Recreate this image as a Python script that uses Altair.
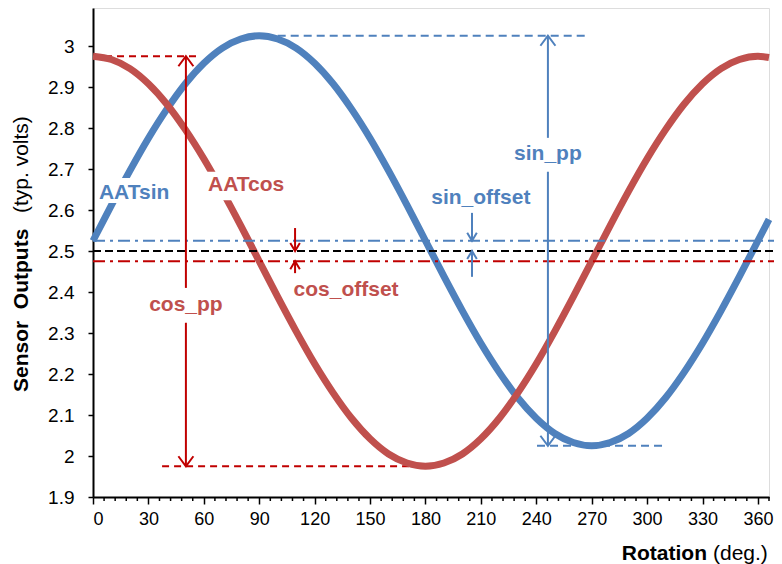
import altair as alt
import pandas as pd

# ---- data ----
angle_deg = [0, 10, 20, 30, 40, 50, 60, 70, 80, 90, 100, 110, 120, 130, 140, 150, 160, 170, 180,
             190, 200, 210, 220, 230, 240, 250, 260, 270, 280, 290, 300, 310, 320, 330, 340, 350, 360, 366]
aat_sin = [2.525, 2.612, 2.696, 2.775, 2.846, 2.908, 2.958, 2.995, 3.017, 3.025, 3.017, 2.995, 2.958,
           2.908, 2.846, 2.775, 2.696, 2.612, 2.525, 2.438, 2.354, 2.275, 2.204, 2.142, 2.092, 2.055,
           2.033, 2.025, 2.033, 2.055, 2.092, 2.142, 2.204, 2.275, 2.354, 2.438, 2.525, 2.577]
aat_cos = [2.975, 2.967, 2.945, 2.908, 2.858, 2.796, 2.725, 2.646, 2.562, 2.475, 2.388, 2.304, 2.225,
           2.154, 2.092, 2.042, 2.005, 1.983, 1.975, 1.983, 2.005, 2.042, 2.092, 2.154, 2.225, 2.304,
           2.388, 2.475, 2.562, 2.646, 2.725, 2.796, 2.858, 2.908, 2.945, 2.967, 2.975, 2.972]

ref_mid = 2.5
sin_offset_level = 2.525
cos_offset_level = 2.475
ref_x = [0, 372]

# dashed extension lines: (x_start, x_end, level)
red_ext = [(0, 56.3, 2.975), (37.4, 184, 1.975)]
blue_ext = [(100, 267.5, 3.025), (240.4, 308.6, 2.025)]

# arrow shafts: (x, y_start, y_end)
red_shafts = [(50.3, 2.975, 2.41), (50.3, 2.325, 1.975), (109.4, 2.556, 2.5), (109.4, 2.475, 2.446)]
blue_shafts = [(246.3, 3.025, 2.776), (246.3, 2.693, 2.025), (205.2, 2.593, 2.525), (205.2, 2.5, 2.437)]

# arrow heads: (x, y, direction, size)
red_heads = [(50.3, 2.975, "up", "big"), (50.3, 1.975, "down", "big"),
             (109.4, 2.5, "down", "small"), (109.4, 2.475, "up", "small")]
blue_heads = [(246.3, 3.025, "up", "big"), (246.3, 2.025, "down", "big"),
              (205.2, 2.525, "down", "small"), (205.2, 2.5, "up", "small")]

# labels: (text, x, y, align, color)
labels = [("AATsin", 3.2, 2.641, "left", "#4F81BD"),
          ("AATcos", 62.3, 2.661, "left", "#C0504D"),
          ("cos_pp", 50.3, 2.368, "center", "#C0504D"),
          ("sin_pp", 246.3, 2.737, "center", "#4F81BD"),
          ("sin_offset", 210.0, 2.629, "center", "#4F81BD"),
          ("cos_offset", 137.0, 2.405, "center", "#C0504D")]
# white boxes behind the curve labels: (x1, x2, y1, y2)
label_boxes = [(1.6, 45.0, 2.617, 2.678), (60.0, 113.0, 2.624, 2.693)]

x_major = list(range(0, 361, 30))
x_minor = [v for v in range(0, 367, 6) if v % 30 != 0]
y_ticks = [1.9, 2.0, 2.1, 2.2, 2.3, 2.4, 2.5, 2.6, 2.7, 2.8, 2.9, 3.0]

BLUE = "#4F81BD"
RED = "#C0504D"
DARK_RED = "#C00000"
FONT = "Liberation Sans"

W, H = 676, 489
xs = alt.Scale(domain=[0, 366], nice=False, zero=False)
ys = alt.Scale(domain=[1.9, 3.0927], nice=False, zero=False)

x_axis = alt.Axis(values=x_major, tickSize=7, labelOverlap=False, labelPadding=6, title=None, grid=False,
                  domainColor="black", domainWidth=2, tickColor="black", tickWidth=1.5,
                  labelFont=FONT, labelFontSize=18, labelColor="black")
y_axis = alt.Axis(values=y_ticks, format=".1~f", tickSize=5, labelPadding=14, title=None, grid=False,
                  domainColor="black", domainWidth=2, tickColor="black", tickWidth=1.5,
                  labelFont=FONT, labelFontSize=19, labelColor="black")


def X(f):
    return alt.X(f, scale=xs, axis=x_axis)


def Y(f):
    return alt.Y(f, scale=ys, axis=y_axis)


curves = pd.DataFrame({
    "deg": angle_deg * 2,
    "v": aat_sin + aat_cos,
    "s": ["AATsin"] * len(angle_deg) + ["AATcos"] * len(angle_deg),
})

base_curve = alt.Chart(curves).mark_line(strokeWidth=7, interpolate="monotone", strokeCap="butt").encode(
    x=X("deg:Q"),
    y=Y("v:Q"),
    color=alt.Color("s:N", scale=alt.Scale(domain=["AATsin", "AATcos"], range=[BLUE, RED]), legend=None),
    detail="s:N",
)

# minor ticks on the x axis
minor_ticks = alt.Chart(pd.DataFrame({"x": x_minor})).mark_rule(color="black", strokeWidth=1.5).encode(
    x=X("x:Q"), y=alt.value(H), y2=alt.value(H + 4))


def hrules(rows, color, dash, width=2):
    df = pd.DataFrame(rows, columns=["x1", "x2", "y"])
    return alt.Chart(df).mark_rule(color=color, strokeDash=dash, strokeWidth=width).encode(
        x=X("x1:Q"), x2="x2:Q", y=Y("y:Q"))


def vrules(rows, color, width=2):
    df = pd.DataFrame(rows, columns=["x", "y1", "y2"])
    return alt.Chart(df).mark_rule(color=color, strokeWidth=width).encode(
        x=X("x:Q"), y=Y("y1:Q"), y2="y2:Q")


SHAPES = {
    ("up", "big"): ("M-0.75,1L0,0L0.75,1", 400),
    ("down", "big"): ("M-0.75,-1L0,0L0.75,-1", 400),
    ("up", "small"): ("M-0.6,1L0,0L0.6,1", 256),
    ("down", "small"): ("M-0.6,-1L0,0L0.6,-1", 256),
}


def heads(rows, color):
    layers = []
    for x, y, d, sz in rows:
        path, size = SHAPES[(d, sz)]
        df = pd.DataFrame({"x": [x], "y": [y]})
        layers.append(alt.Chart(df).mark_point(shape=path, size=size, filled=False, color=color,
                                               strokeWidth=2, opacity=1).encode(
            x=X("x:Q"), y=Y("y:Q")))
    return layers


ext_layers = [hrules(red_ext, DARK_RED, [7, 5]), hrules(blue_ext, BLUE, [8, 5])]
ref_layers = [
    hrules([(ref_x[0], ref_x[1], ref_mid)], "black", [8, 4]),
    hrules([(ref_x[0], ref_x[1], sin_offset_level)], BLUE, [12, 5, 3, 5]),
    hrules([(ref_x[0], ref_x[1], cos_offset_level)], DARK_RED, [12, 5, 3, 5]),
]
arrow_layers = [vrules(red_shafts, DARK_RED), vrules(blue_shafts, BLUE)] + heads(red_heads, DARK_RED) + heads(blue_heads, BLUE)

box_df = pd.DataFrame(label_boxes, columns=["x1", "x2", "y1", "y2"])
box_layer = alt.Chart(box_df).mark_rect(color="white").encode(
    x=X("x1:Q"), x2="x2:Q", y=Y("y1:Q"), y2="y2:Q")

lab_df = pd.DataFrame(labels, columns=["t", "x", "y", "a", "c"])
label_layers = []
for a in ["left", "center"]:
    sub = lab_df[lab_df["a"] == a]
    label_layers.append(alt.Chart(sub).mark_text(align=a, baseline="middle", font=FONT, fontSize=21,
                                                  fontWeight="bold").encode(
        x=X("x:Q"), y=Y("y:Q"), text="t:N",
        color=alt.Color("c:N", scale=None)))


# axis titles (mixed bold / regular)
def title_text(txt, x, y, align, bold, angle=0):
    kw = dict(align=align, baseline="alphabetic", font=FONT, fontSize=21, color="black",
              fontWeight="bold" if bold else "normal")
    if angle:
        kw["angle"] = angle
    return alt.Chart(pd.DataFrame({"t": [txt]})).mark_text(**kw).encode(
        x=alt.value(x), y=alt.value(y), text="t:N")


title_layers = [
    title_text("Sensor\u00a0\u00a0Outputs", -65, 384, "left", True, angle=270),
    title_text("(typ. volts)", -65, 205, "left", False, angle=270),
    title_text("Rotation", 614, 552, "right", True),
    title_text("(deg.)", 620, 552, "left", False),
]

chart = alt.layer(*ext_layers, base_curve, minor_ticks, *ref_layers, *arrow_layers, box_layer,
                  *label_layers, *title_layers).properties(
    width=W, height=H,
    padding={"left": 85, "top": 0, "right": 5, "bottom": 67},
    autosize=alt.AutoSizeParams(type="none"),
).configure_view(stroke=None).configure(background="white")

chart.save("out.html", embed_options={"renderer": "svg", "actions": False})
